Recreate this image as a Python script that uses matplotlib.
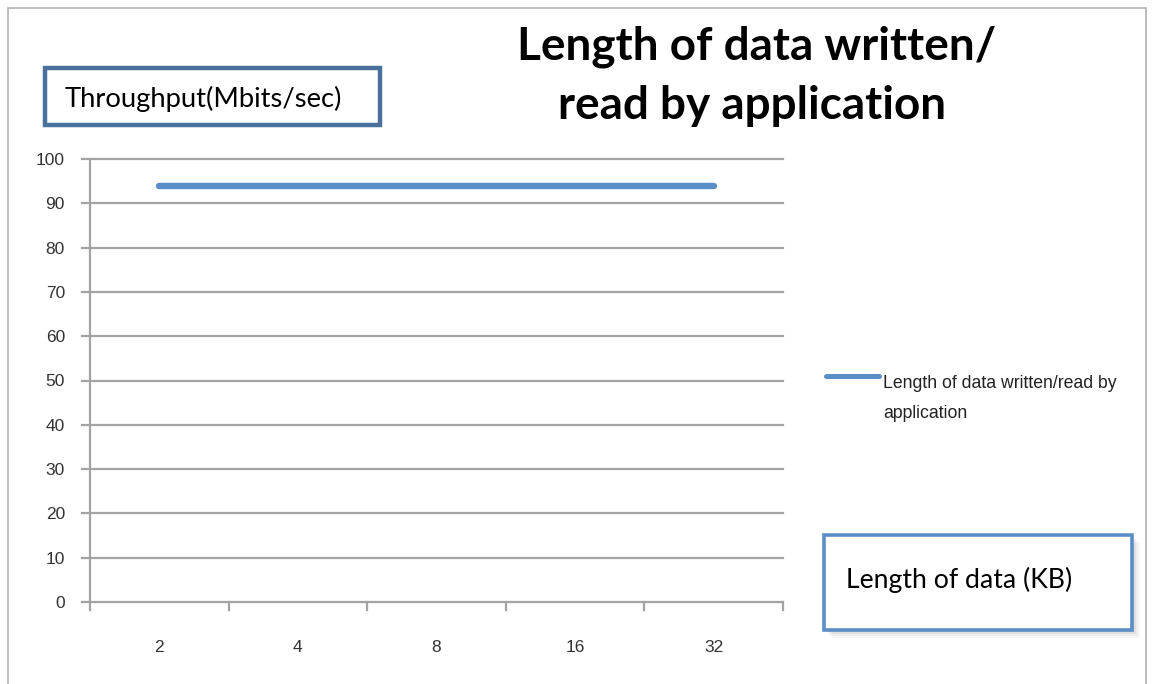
import matplotlib
matplotlib.use("Agg")
import matplotlib.pyplot as plt
from matplotlib.patches import Rectangle
import numpy as np

# data sizes and measured throughput
sizes = ["2", "4", "8", "16", "32"]
throughput = [94, 94, 94, 94, 94]
y_ticks = [0, 10, 20, 30, 40, 50, 60, 70, 80, 90, 100]

W, H = 1152, 684
fig = plt.figure(figsize=(W / 100, H / 100), dpi=100)

def fx(px):
    return px / W

def fy(py):
    return 1 - py / H

grid_col = "#a3a3a3"
blue = "#5b8ec7"
box_col = "#4a709c"
label_font = "Lato"

# plot area
ax = fig.add_axes([fx(90), fy(602), fx(783) - fx(90), fy(159) - fy(602)])
ax.set_xlim(0, len(sizes))
ax.set_ylim(0, 100)
for y in y_ticks:
    ax.plot([-0.06, len(sizes)], [y, y], color=grid_col, lw=1.6, clip_on=False, zorder=1)
ax.plot(np.arange(len(sizes)) + 0.5, throughput, color=blue, lw=4.6,
        solid_capstyle="round", zorder=3, clip_on=False)

for s in ["top", "right", "bottom"]:
    ax.spines[s].set_visible(False)
ax.spines["left"].set_color(grid_col)
ax.spines["left"].set_linewidth(1.6)

ax.set_yticks(y_ticks)
ax.set_yticklabels([str(v) for v in y_ticks])
ax.tick_params(axis="y", length=0, pad=18, labelsize=12.5, labelcolor="#333333",
               labelfontfamily="Liberation Sans")
ax.set_xticks(np.arange(len(sizes)) + 0.5)
ax.set_xticklabels(sizes)
ax.tick_params(axis="x", length=0, pad=27, labelsize=12.5, labelcolor="#333333",
               labelfontfamily="Liberation Sans")
# category boundary ticks below the x axis
for b in range(len(sizes) + 1):
    ax.plot([b, b], [0, -1.8], color=grid_col, lw=1.6, clip_on=False)
ax.patch.set_alpha(0)

# outer frame
fig.patches.append(Rectangle((fx(8), fy(690)), fx(1146) - fx(8), fy(8) - fy(690),
                             transform=fig.transFigure, fill=False,
                             edgecolor="#b0b0b0", lw=1.2))

# title
fig.text(fx(757), fy(47), "Length of data written/", ha="center", va="center",
         fontsize=33, fontweight="bold", family=label_font, color="black")
fig.text(fx(752), fy(106), "read by application", ha="center", va="center",
         fontsize=33, fontweight="bold", family=label_font, color="black")

# y axis title box
fig.patches.append(Rectangle((fx(45), fy(125)), fx(380) - fx(45), fy(68) - fy(125),
                             transform=fig.transFigure, fill=False,
                             edgecolor=box_col, lw=3.2))
fig.text(fx(65), fy(99), "Throughput(Mbits/sec)", ha="left", va="center",
         fontsize=19.7, family=label_font, color="black")

# x axis title box with soft shadow
for i, a in enumerate([0.05, 0.05, 0.04, 0.03]):
    d = 2 + 2 * i
    fig.patches.append(Rectangle((fx(824 + d), fy(630 + d)), fx(1132) - fx(824),
                                 fy(535) - fy(630), transform=fig.transFigure,
                                 facecolor="black", edgecolor="none", alpha=a))
fig.patches.append(Rectangle((fx(824), fy(630)), fx(1132) - fx(824), fy(535) - fy(630),
                             transform=fig.transFigure, facecolor="white",
                             edgecolor=blue, lw=2.6))
fig.text(fx(846), fy(580), "Length of data (KB)", ha="left", va="center",
         fontsize=19.2, family=label_font, color="black")

# legend
fig.lines.append(plt.Line2D([fx(826), fx(879)], [fy(376), fy(376)],
                            transform=fig.transFigure, color=blue, lw=3.6,
                            solid_capstyle="round"))
fig.text(fx(883), fy(383), "Length of data written/read by", ha="left", va="center",
         fontsize=12.7, family="Liberation Sans", color="#222222")
fig.text(fx(883), fy(414), "application", ha="left", va="center",
         fontsize=12.7, family="Liberation Sans", color="#222222")

fig.savefig("out.png", dpi=100, facecolor="white")
